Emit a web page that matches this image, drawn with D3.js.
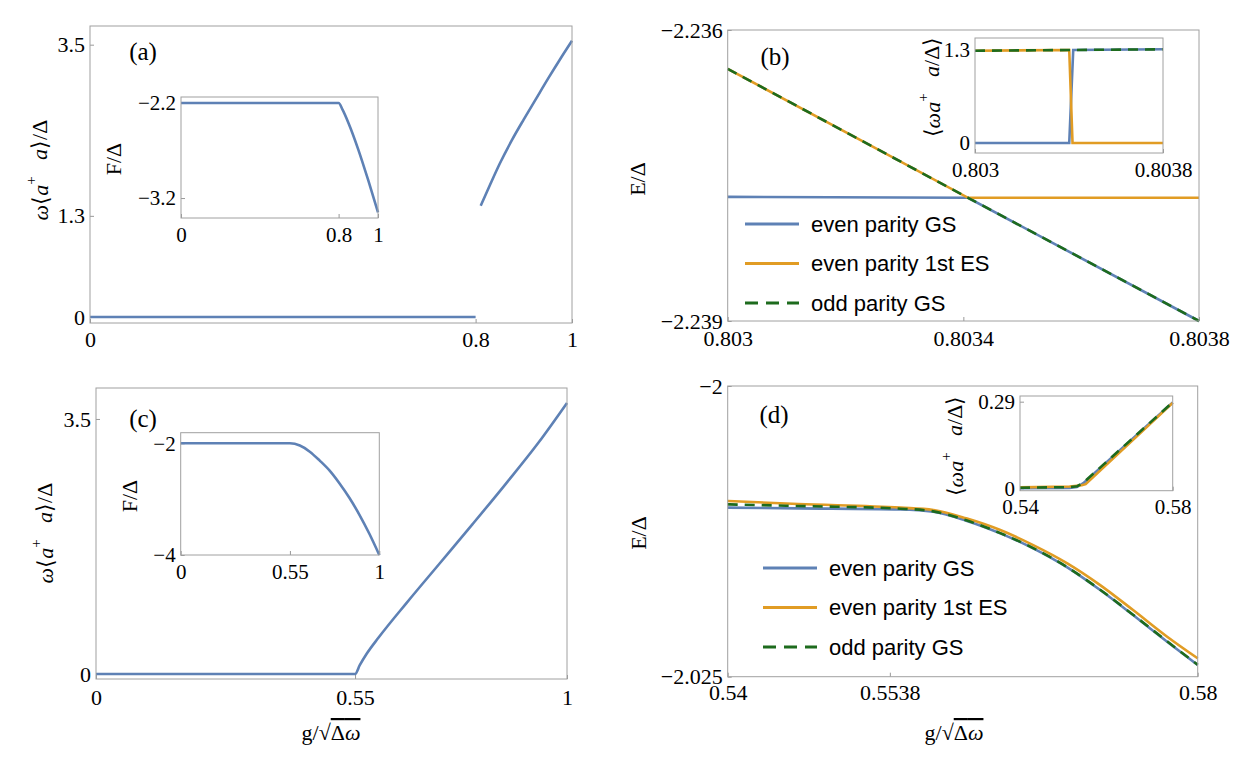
<!DOCTYPE html>
<html>
<head>
<meta charset="utf-8">
<script src="https://cdn.jsdelivr.net/npm/d3@7"></script>
<style>
body { margin: 0; background: #fff; }
svg text { font-family: "Liberation Serif", "Times New Roman", serif; fill: #000; }
svg text.leg { font-family: "Liberation Sans", Arial, sans-serif; }
</style>
</head>
<body>
<svg id="fig" width="1234" height="770"></svg>
<script>

// ---- (a) photon number vs g, inset free energy
var aX = [0, 0.8, 0.8, 0.8106, 0.83, 0.85, 0.875, 0.9, 0.925, 0.95, 0.975, 1];
var aY = [0, 0, null, 1.43, 1.70, 1.97, 2.27, 2.54, 2.80, 3.06, 3.31, 3.55];
var aInX = [0, 0.8, 0.82, 0.85, 0.9, 0.95, 1];
var aInY = [-2.2, -2.2, -2.27, -2.41, -2.69, -3.01, -3.35];

// ---- (b) energies near the crossing
var bX = [0.803, 0.803408, 0.8038];
var bEvenGS = [-2.23772, -2.23773, -2.239];
var bEvenES = [-2.2364, -2.23773, -2.23773];
var bOddGS = [-2.2364, -2.23773, -2.239];
var bInEvenGSX = [0.803, 0.803401, 0.803418, 0.8038];
var bInEvenGSY = [0, 0, 1.30, 1.31];
var bInEvenESX = [0.803, 0.803401, 0.803415, 0.8038];
var bInEvenESY = [1.29, 1.30, 0, 0];
var bInOddX = [0.803, 0.8038];
var bInOddY = [1.29, 1.31];

// ---- (c)
var cX = [0, 0.55, 0.56, 0.575, 0.6, 0.66, 0.73, 0.8, 0.87, 0.94, 1];
var cY = [0, 0, 0.12, 0.28, 0.5, 0.98, 1.52, 2.06, 2.61, 3.18, 3.72];
var cInX = [0, 0.55, 0.6, 0.65, 0.7, 0.75, 0.8, 0.85, 0.9, 0.95, 1];
var cInY = [-2, -2, -2.04, -2.15, -2.31, -2.49, -2.72, -2.98, -3.28, -3.62, -4];

// ---- (d)
var dX = [0.54, 0.546, 0.5547, 0.5575, 0.5603, 0.5632, 0.566, 0.5689, 0.5717, 0.5745, 0.5774, 0.58];
var dEvenGS = [-2.01046, -2.01052, -2.01061, -2.01081, -2.01158, -2.01267, -2.01396, -2.0156, -2.01755, -2.0197, -2.02199, -2.024];
var dEvenES = [-2.00989, -2.01015, -2.01046, -2.01066, -2.01138, -2.01239, -2.01368, -2.01525, -2.01712, -2.01927, -2.02156, -2.02342];
var dOddGS = [-2.01018, -2.01032, -2.01055, -2.01078, -2.01155, -2.01265, -2.01394, -2.01558, -2.01752, -2.01967, -2.02196, -2.02398];
var dInEvenGSX = [0.54, 0.553, 0.5549, 0.5566, 0.58];
var dInEvenGSY = [0, 0.001, 0.004, 0.017, 0.287];
var dInEvenESX = [0.54, 0.553, 0.5562, 0.5572, 0.58];
var dInEvenESY = [0.003, 0.006, 0.010, 0.014, 0.286];
var dInOddX = [0.54, 0.553, 0.555, 0.5566, 0.58];
var dInOddY = [0.002, 0.004, 0.007, 0.019, 0.288];

var legendNames = ["even parity GS", "even parity 1st ES", "odd parity GS"];

var blue = "#5e81b5", orange = "#e19c24", green = "#1d6b1d";
var serif = "'Liberation Serif', 'Times New Roman', serif";
var svg = d3.select("#fig");

function zip(xs, ys) {
    return xs.map(function(d, i) { return [d, ys[i]]; });
}

function panel(o) {
    var x = d3.scaleLinear().domain(o.xd).range([o.x0, o.x1]);
    var y = d3.scaleLinear().domain(o.yd).range([o.y1, o.y0]);
    var g = svg.append("g");

    var gx = g.append("g")
        .attr("transform", "translate(0," + o.y1 + ")")
        .call(d3.axisBottom(x).tickValues(o.xt)
            .tickFormat(function(d, i) { return o.xl[i]; })
            .tickSizeInner(-4).tickSizeOuter(0).tickPadding(o.xpad));
    var gy = g.append("g")
        .attr("transform", "translate(" + o.x0 + ",0)")
        .call(d3.axisLeft(y).tickValues(o.yt)
            .tickFormat(function(d, i) { return o.yl[i]; })
            .tickSizeInner(-4).tickSizeOuter(0).tickPadding(5));
    [gx, gy].forEach(function(a) {
        a.attr("font-family", serif).attr("font-size", o.fs);
        a.selectAll("text").style("font-family", serif);
        a.select(".domain").remove();
        a.selectAll(".tick line").attr("stroke", "#999");
    });

    var line = d3.line()
        .defined(function(d) { return d[1] != null; })
        .x(function(d) { return x(d[0]); })
        .y(function(d) { return y(d[1]); })
        .curve(o.curve || d3.curveMonotoneX);

    o.series.forEach(function(s) {
        g.append("path")
            .datum(zip(s.x, s.y))
            .attr("d", line)
            .attr("fill", "none")
            .attr("stroke", s.color)
            .attr("stroke-width", 2.6)
            .attr("stroke-dasharray", s.dash ? "10,7" : null);
    });

    g.append("rect")
        .attr("x", o.x0).attr("y", o.y0)
        .attr("width", o.x1 - o.x0).attr("height", o.y1 - o.y0)
        .attr("fill", "none").attr("stroke", "#a0a0a0").attr("stroke-width", 1);
    return g;
}

function yTitle(cx, cy, parts, fs) {
    var t = svg.append("text")
        .attr("transform", "translate(" + cx + "," + cy + ") rotate(-90)")
        .attr("text-anchor", "middle")
        .attr("dy", "0.35em")
        .attr("font-size", fs)
        .style("white-space", "pre");
    parts.forEach(function(p) {
        var s = t.append("tspan").text(p.t);
        if (p.i) s.attr("font-style", "italic");
        if (p.sup) s.attr("font-size", fs * 0.68).attr("dy", "-0.75em");
        if (p.down) s.attr("dy", "0.5em");
    });
}

function xTitle(cx, cy) {
    var t = svg.append("text")
        .attr("x", cx).attr("y", cy)
        .attr("text-anchor", "middle")
        .attr("font-size", 22);
    t.append("tspan").text("g/\u221A");
    var ov = t.append("tspan").style("text-decoration", "overline");
    ov.append("tspan").text("\u0394");
    ov.append("tspan").attr("font-style", "italic").text("\u03C9");
}

function legend(x0, y0) {
    var items = [
        {name: legendNames[0], color: blue, dash: null},
        {name: legendNames[1], color: orange, dash: null},
        {name: legendNames[2], color: green, dash: "13,8"}
    ];
    var lg = svg.append("g").attr("transform", "translate(" + x0 + "," + y0 + ")");
    var row = lg.selectAll("g").data(items).enter().append("g")
        .attr("transform", function(d, i) { return "translate(0," + i * 39.5 + ")"; });
    row.append("line")
        .attr("x1", 0).attr("x2", 54).attr("y1", 0).attr("y2", 0)
        .attr("stroke", function(d) { return d.color; })
        .attr("stroke-width", 3)
        .attr("stroke-dasharray", function(d) { return d.dash; });
    row.append("text")
        .attr("class", "leg")
        .attr("x", 66).attr("dy", "0.35em")
        .attr("font-size", 22)
        .text(function(d) { return d.name; });
}

function tag(x, y, s) {
    svg.append("text").attr("x", x).attr("y", y)
        .attr("text-anchor", "middle").attr("font-size", 25).text(s);
}

var axTitle = [
    {t: "\u03C9", i: true}, {t: "\u27E8"}, {t: "a", i: true}, {t: "+", sup: true},
    {t: "   ", down: true}, {t: "a", i: true}, {t: "\u27E9/\u0394"}
];
var inTitle = [
    {t: "\u27E8"}, {t: "\u03C9", i: true}, {t: "a", i: true}, {t: "+", sup: true},
    {t: "   ", down: true}, {t: "a", i: true}, {t: "/\u0394\u27E9"}
];

// (a)
panel({x0: 90, x1: 572, y0: 26, y1: 323, xd: [0, 1], yd: [-0.077, 3.74],
    xt: [0, 0.8, 1], xl: ["0", "0.8", "1"], yt: [0, 1.3, 3.5], yl: ["0", "1.3", "3.5"],
    fs: 22, xpad: 8,
    series: [{x: aX, y: aY, color: blue}]});
panel({x0: 181, x1: 378, y0: 97, y1: 218, xd: [0, 1], yd: [-3.41, -2.137],
    xt: [0, 0.8, 1], xl: ["0", "0.8", "1"], yt: [-3.2, -2.2], yl: ["\u22123.2", "\u22122.2"],
    fs: 21, xpad: 9,
    series: [{x: aInX, y: aInY, color: blue}]});
tag(143, 60, "(a)");
yTitle(40, 170, axTitle, 22);
yTitle(113, 159, [{t: "F/\u0394"}], 22);

// (b)
panel({x0: 727.7, x1: 1199, y0: 30, y1: 321, xd: [0.803, 0.8038], yd: [-2.239, -2.236],
    xt: [0.803, 0.8034, 0.8038], xl: ["0.803", "0.8034", "0.8038"],
    yt: [-2.239, -2.236], yl: ["\u22122.239", "\u22122.236"],
    fs: 22, xpad: 9, curve: d3.curveLinear,
    series: [{x: bX, y: bEvenGS, color: blue}, {x: bX, y: bEvenES, color: orange},
             {x: bX, y: bOddGS, color: green, dash: true}]});
panel({x0: 975, x1: 1163, y0: 38, y1: 153, xd: [0.803, 0.8038], yd: [-0.14, 1.468],
    xt: [0.803, 0.8038], xl: ["0.803", "0.8038"], yt: [0, 1.3], yl: ["0", "1.3"],
    fs: 21, xpad: 9, curve: d3.curveLinear,
    series: [{x: bInEvenGSX, y: bInEvenGSY, color: blue}, {x: bInEvenESX, y: bInEvenESY, color: orange},
             {x: bInOddX, y: bInOddY, color: green, dash: true}]});
tag(775, 65, "(b)");
yTitle(637, 179, [{t: "E/\u0394"}], 22);
yTitle(932, 87, inTitle, 22);
legend(745, 224);

// (c)
panel({x0: 96, x1: 567, y0: 388, y1: 679, xd: [0, 1], yd: [-0.069, 3.925],
    xt: [0, 0.55, 1], xl: ["0", "0.55", "1"], yt: [0, 3.5], yl: ["0", "3.5"],
    fs: 22, xpad: 10,
    series: [{x: cX, y: cY, color: blue}]});
panel({x0: 180.7, x1: 379.3, y0: 432.7, y1: 555, xd: [0, 1], yd: [-4, -1.81],
    xt: [0, 0.55, 1], xl: ["0", "0.55", "1"], yt: [-4, -2], yl: ["\u22124", "\u22122"],
    fs: 21, xpad: 9,
    series: [{x: cInX, y: cInY, color: blue}]});
tag(143, 427, "(c)");
yTitle(45, 533, axTitle, 22);
yTitle(129, 496, [{t: "F/\u0394"}], 22);
xTitle(331, 740);

// (d)
panel({x0: 727.7, x1: 1197.7, y0: 386, y1: 676.7, xd: [0.54, 0.58], yd: [-2.025, -2],
    xt: [0.54, 0.5538, 0.58], xl: ["0.54", "0.5538", "0.58"],
    yt: [-2.025, -2], yl: ["\u22122.025", "\u22122"],
    fs: 22, xpad: 8,
    series: [{x: dX, y: dEvenGS, color: blue}, {x: dX, y: dEvenES, color: orange},
             {x: dX, y: dOddGS, color: green, dash: true}]});
panel({x0: 1020, x1: 1172.7, y0: 396, y1: 490.7, xd: [0.54, 0.58], yd: [-0.008, 0.309],
    xt: [0.54, 0.58], xl: ["0.54", "0.58"], yt: [0, 0.29], yl: ["0", "0.29"],
    fs: 21, xpad: 8, curve: d3.curveLinear,
    series: [{x: dInEvenGSX, y: dInEvenGSY, color: blue}, {x: dInEvenESX, y: dInEvenESY, color: orange},
             {x: dInOddX, y: dInOddY, color: green, dash: true}]});
tag(774, 423, "(d)");
yTitle(638, 533, [{t: "E/\u0394"}], 22);
yTitle(955, 446, inTitle, 22);
legend(763, 568);
xTitle(954, 740);

</script>
</body>
</html>
